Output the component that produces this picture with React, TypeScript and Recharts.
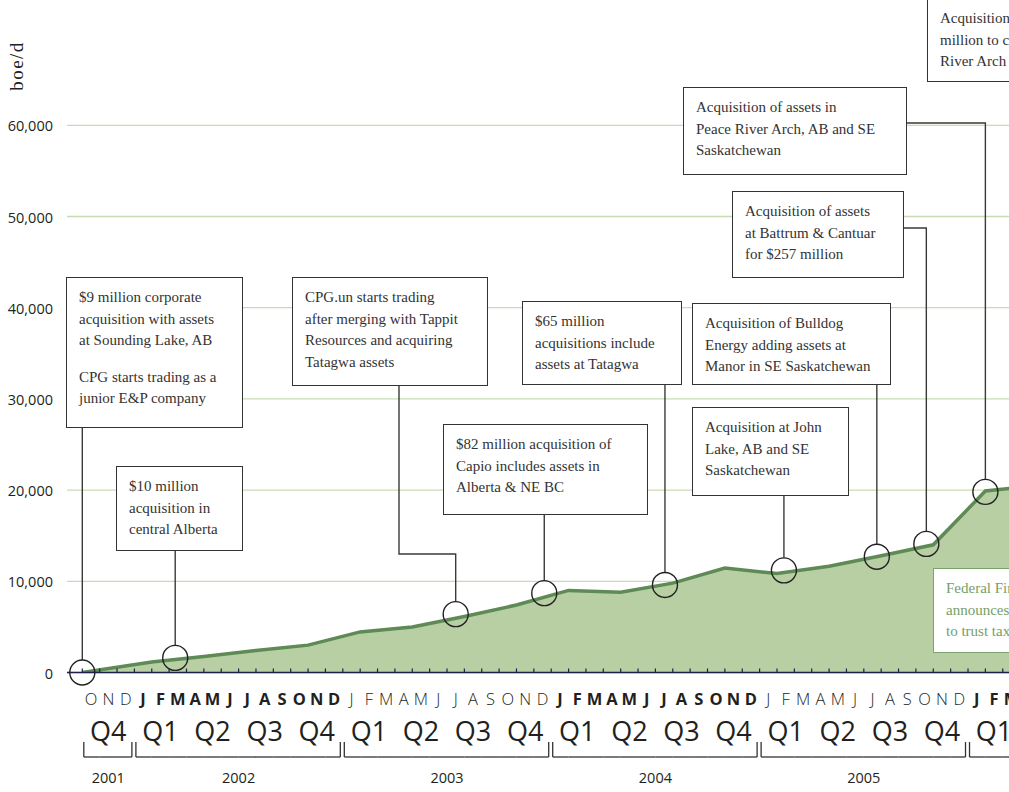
import React from 'react';
import { AreaChart, Area, XAxis, YAxis, CartesianGrid, ReferenceDot } from 'recharts';

// ---- data ----
const monthIndex = [0, 4, 7, 10, 13, 16, 19, 22, 25, 28, 31, 34, 37, 40, 43, 46, 49, 52, 55];
const production = [0, 1150, 1750, 2400, 3000, 4450, 5000, 6150, 7400, 9000, 8800, 9800, 11450, 10850, 11650, 12800, 14000, 19900, 20500];

const yTicks = [0, 10000, 20000, 30000, 40000, 50000, 60000];
const monthLetters = ['J', 'F', 'M', 'A', 'M', 'J', 'J', 'A', 'S', 'O', 'N', 'D'];
const startYear = 2001;
const startMonth = 9; // October
const boldYears = [2002, 2004, 2006];
const monthCount = 58;

const eventMonth = [0, 5.35, 21.5, 26.6, 33.55, 40.4, 45.75, 48.6, 52.0];
const eventValue = [0, 1600, 6400, 8700, 9600, 11200, 12700, 14100, 19800];

const rows = monthIndex.map((m, i) => ({ m, v: production[i] }));
const labelTicks = Array.from({ length: monthCount }, (_, i) => i + 0.5);

// ---- layout ----
const CHART_W = 1100;
const CHART_H = 792;
const Y_W = 67;
const TOP = 125.3;
const AXIS_Y = 672.5;
const X_MIN = -0.881;
const X_MAX = 58.6;
const MONTH_PX = (CHART_W - Y_W) / (X_MAX - X_MIN);

const SANS = '"Open Sans", "Noto Sans", sans-serif';
const SERIF = '"Liberation Serif", "DejaVu Serif", serif';
const INK = '#231f20';

// leader routes (pixel layout), one per event
const leaders: { start?: number; pts?: number[][] }[] = [
  { start: 428 },
  { start: 551 },
  { pts: [[399, 386], [399, 554]] },
  { start: 515 },
  { start: 385 },
  { start: 496 },
  { start: 385 },
  { pts: [[904, 228]] },
  { pts: [[907, 123]] },
];

type Box = { x: number; y: number; w: number; h: number; paras: string[][]; green?: boolean };
const boxes: Box[] = [
  { x: 66, y: 277, w: 177, h: 151, paras: [['$9 million corporate', 'acquisition with assets', 'at Sounding Lake, AB'], ['CPG starts trading as a', 'junior E&P company']] },
  { x: 116, y: 466, w: 127, h: 85, paras: [['$10 million', 'acquisition in', 'central Alberta']] },
  { x: 292, y: 277, w: 196, h: 109, paras: [['CPG.un starts trading', 'after merging with Tappit', 'Resources and acquiring', 'Tatagwa assets']] },
  { x: 443, y: 424, w: 205, h: 91, paras: [['$82 million acquisition of', 'Capio includes assets in', 'Alberta & NE BC']] },
  { x: 522, y: 301, w: 160, h: 84, paras: [['$65 million', 'acquisitions include', 'assets at Tatagwa']] },
  { x: 692, y: 407, w: 157, h: 89, paras: [['Acquisition at John', 'Lake, AB and SE', 'Saskatchewan']] },
  { x: 692, y: 303, w: 199, h: 82, paras: [['Acquisition of Bulldog', 'Energy adding assets at', 'Manor in SE Saskatchewan']] },
  { x: 732, y: 191, w: 172, h: 87, paras: [['Acquisition of assets', 'at Battrum & Cantuar', 'for $257 million']] },
  { x: 683, y: 87, w: 224, h: 88, paras: [['Acquisition of assets in', 'Peace River Arch, AB and SE', 'Saskatchewan']] },
  { x: 927, y: -2, w: 220, h: 84, paras: [['Acquisition of assets for $143', 'million to consolidate Peace', 'River Arch holdings']] },
  { x: 933, y: 568, w: 220, h: 85, paras: [['Federal Finance Minister', 'announces changes', 'to trust taxation']], green: true },
];

const fmt = (n: number) => String(n).replace(/\B(?=(\d{3})+(?!\d))/g, ',');

const YTick = (props: any) => {
  const { y, payload } = props;
  return (
    <text x={53} y={y + 6} textAnchor="end" fontSize={14.5} fontFamily={SANS} fill={INK}>
      {fmt(payload.value)}
    </text>
  );
};

const MonthTick = (props: any) => {
  const { x, payload } = props;
  const k = Math.floor(payload.value);
  const abs = startMonth + k;
  const cal = abs % 12;
  const year = startYear + Math.floor(abs / 12);
  const half = MONTH_PX / 2;
  const bold = boldYears.includes(year);
  const first = cal === 0 || k === 0;
  const last = cal === 11;
  const left = x - half + (first ? 1.5 : 0);
  const right = x + half - (last ? 2.5 : 0);
  let yearX: number | null = null;
  if (year === startYear && k === 1) yearX = x;
  else if (year !== startYear && cal === 5) yearX = x + half;
  return (
    <g>
      <line x1={x - half} x2={x - half} y1={AXIS_Y - 4} y2={AXIS_Y} stroke="#1f1f4f" strokeWidth={1.2} />
      <text x={x} y={704.5} textAnchor="middle" fontSize={16.5} fontFamily={SANS} fontWeight={bold ? 700 : 300} fill={INK}>
        {monthLetters[cal]}
      </text>
      {cal % 3 === 1 && (
        <text x={x} y={741} textAnchor="middle" fontSize={27} fontFamily={SANS} fontWeight={400} fill={INK}>
          {'Q' + (Math.floor(cal / 3) + 1)}
        </text>
      )}
      <line x1={left} x2={right} y1={757} y2={757} stroke="#333" strokeWidth={1.3} />
      {first && <line x1={left} x2={left} y1={742} y2={757} stroke="#333" strokeWidth={1.3} />}
      {last && <line x1={right} x2={right} y1={742} y2={757} stroke="#333" strokeWidth={1.3} />}
      {yearX !== null && (
        <text x={yearX} y={783} textAnchor="middle" fontSize={14.5} fontFamily={SANS} fill={INK}>
          {year}
        </text>
      )}
    </g>
  );
};

const makeDotShape = (idx: number) => (props: any) => {
  const { cx, cy } = props;
  const r = 12.5;
  const L = leaders[idx];
  let d = '';
  if (L.pts && L.pts.length) {
    d = 'M' + L.pts.map((p) => p.join(' ')).join(' L');
    const lastY = L.pts[L.pts.length - 1][1];
    d += ` L${cx} ${lastY} L${cx} ${cy - r}`;
  } else {
    d = `M${cx} ${L.start} L${cx} ${cy - r}`;
  }
  return (
    <g>
      <path d={d} fill="none" stroke="#3a3a3a" strokeWidth={1.4} />
      <circle cx={cx} cy={cy} r={r} fill="none" stroke="#222" strokeWidth={1.4} />
    </g>
  );
};

export default function App() {
  return (
    <div style={{ position: 'absolute', left: 0, top: 0, width: 1009, height: 792, overflow: 'hidden', background: '#fff' }}>
      <div style={{ position: 'absolute', left: 0, top: 0 }}>
        <AreaChart width={CHART_W} height={CHART_H} data={rows} margin={{ top: TOP, right: 0, bottom: 0, left: 0 }}>
          <CartesianGrid vertical={false} stroke="#c8dbb4" strokeWidth={1.3} />
          <XAxis
            dataKey="m"
            type="number"
            domain={[X_MIN, X_MAX]}
            allowDataOverflow
            ticks={labelTicks}
            interval={0}
            tickLine={false}
            axisLine={{ stroke: '#1f1f4f', strokeWidth: 1.5 }}
            height={CHART_H - AXIS_Y}
            tick={MonthTick}
          />
          <YAxis
            type="number"
            domain={[0, 60000]}
            allowDataOverflow
            ticks={yTicks}
            width={Y_W}
            axisLine={false}
            tickLine={false}
            tick={YTick}
          />
          <Area
            type="linear"
            dataKey="v"
            stroke="#5e8a56"
            strokeWidth={3.5}
            fill="#b8cfa4"
            fillOpacity={1}
            isAnimationActive={false}
            dot={false}
            activeDot={false}
          />
          {eventMonth.map((m, i) => (
            <ReferenceDot key={i} x={m} y={eventValue[i]} r={12.5} shape={makeDotShape(i)} ifOverflow="visible" />
          ))}
        </AreaChart>
      </div>
      <div
        style={{
          position: 'absolute',
          left: 17,
          top: 66,
          transform: 'translate(-50%, -50%) rotate(-90deg)',
          fontFamily: SERIF,
          fontSize: 19,
          letterSpacing: 1.5,
          color: INK,
          whiteSpace: 'nowrap',
        }}
      >
        boe/d
      </div>
      {boxes.map((b, i) => (
        <div
          key={i}
          style={{
            position: 'absolute',
            left: b.x,
            top: b.y,
            width: b.w,
            height: b.h,
            boxSizing: 'border-box',
            border: `1.3px solid ${b.green ? '#7aa36e' : '#333'}`,
            background: '#fff',
            padding: '9px 0 0 12px',
            fontFamily: SERIF,
            fontSize: 15,
            lineHeight: '21.5px',
            color: b.green ? '#74a067' : '#333',
            whiteSpace: 'nowrap',
          }}
        >
          {b.paras.map((p, j) => (
            <div key={j} style={{ marginTop: j > 0 ? 15 : 0 }}>
              {p.map((line, li) => (
                <div key={li}>{line}</div>
              ))}
            </div>
          ))}
        </div>
      ))}
    </div>
  );
}
